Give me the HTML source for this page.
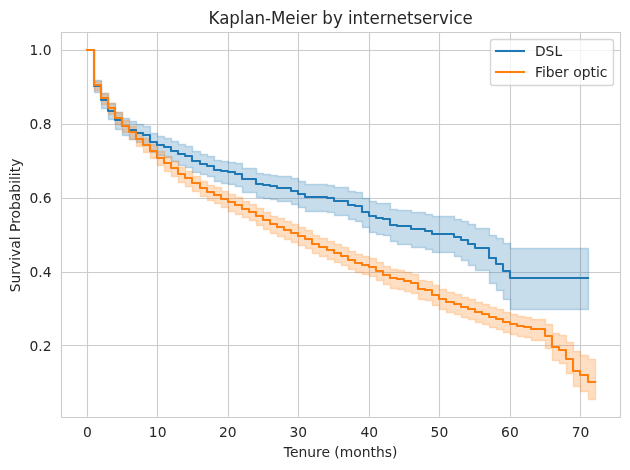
<!DOCTYPE html>
<html lang="en"><head><meta charset="utf-8"><title>Kaplan-Meier by internetservice</title>
<style>html,body{margin:0;padding:0;background:#fff}svg{display:block}text{font-family:'DejaVu Sans','Liberation Sans',sans-serif;fill:#262626}</style></head><body>
<svg width="630" height="470" viewBox="0 0 630 470">
<defs><clipPath id="ax"><rect x="61.28" y="32.33" width="558.72" height="384.39"/></clipPath></defs>
<rect x="0" y="0" width="630" height="470" fill="#ffffff"/>
<path d="M87.5 32.33 V416.72 M157.5 32.33 V416.72 M228.5 32.33 V416.72 M298.5 32.33 V416.72 M369.5 32.33 V416.72 M439.5 32.33 V416.72 M510.5 32.33 V416.72 M580.5 32.33 V416.72 M61.28 50.5 H620 M61.28 124.5 H620 M61.28 198.5 H620 M61.28 272.5 H620 M61.28 345.5 H620" fill="none" stroke="#cccccc" stroke-width="1.11"/>
<g clip-path="url(#ax)">
<path d="M87.5 50 L94.5 50 L94.5 80.5 L101.5 80.5 L101.5 93.5 L108.5 93.5 L108.5 103.5 L115.5 103.5 L115.5 112.5 L122.5 112.5 L122.5 118.5 L129.5 118.5 L129.5 121.5 L136.5 121.5 L136.5 124.5 L143.5 124.5 L143.5 126.5 L150.5 126.5 L150.5 133.5 L157.5 133.5 L157.5 136.5 L164.5 136.5 L164.5 138.5 L171.5 138.5 L171.5 141.5 L178.5 141.5 L178.5 144.5 L185.5 144.5 L185.5 146.5 L192.5 146.5 L192.5 151.5 L200.5 151.5 L200.5 154.5 L207.5 154.5 L207.5 156.5 L214.5 156.5 L214.5 160.5 L221.5 160.5 L221.5 161.5 L228.5 161.5 L228.5 162.5 L235.5 162.5 L235.5 163.5 L242.5 163.5 L242.5 168.5 L249.5 168.5 L249.5 168.5 L256.5 168.5 L256.5 173.5 L263.5 173.5 L263.5 174.5 L270.5 174.5 L270.5 175.5 L277.5 175.5 L277.5 176.5 L284.5 176.5 L284.5 176.5 L291.5 176.5 L291.5 178.5 L298.5 178.5 L298.5 181.5 L305.5 181.5 L305.5 184.5 L312.5 184.5 L312.5 184.5 L319.5 184.5 L319.5 184.5 L327.5 184.5 L327.5 185.5 L334.5 185.5 L334.5 187.5 L341.5 187.5 L341.5 187.5 L348.5 187.5 L348.5 191.5 L355.5 191.5 L355.5 192.5 L362.5 192.5 L362.5 198.5 L369.5 198.5 L369.5 201.5 L376.5 201.5 L376.5 203.5 L383.5 203.5 L383.5 203.5 L390.5 203.5 L390.5 209.5 L397.5 209.5 L397.5 210.5 L404.5 210.5 L404.5 210.5 L411.5 210.5 L411.5 212.5 L418.5 212.5 L418.5 212.5 L425.5 212.5 L425.5 214.5 L432.5 214.5 L432.5 216.5 L439.5 216.5 L439.5 216.5 L446.5 216.5 L446.5 216.5 L454.5 216.5 L454.5 219.5 L461.5 219.5 L461.5 221.5 L468.5 221.5 L468.5 224.5 L475.5 224.5 L475.5 228.5 L482.5 228.5 L482.5 228.5 L489.5 228.5 L489.5 235.5 L496.5 235.5 L496.5 238.5 L503.5 238.5 L503.5 243.5 L510.5 243.5 L510.5 248.5 L517.5 248.5 L517.5 248.5 L524.5 248.5 L524.5 248.5 L531.5 248.5 L531.5 248.5 L538.5 248.5 L538.5 248.5 L545.5 248.5 L545.5 248.5 L552.5 248.5 L552.5 248.5 L559.5 248.5 L559.5 248.5 L566.5 248.5 L566.5 248.5 L573.5 248.5 L573.5 248.5 L580.5 248.5 L580.5 248.5 L588.5 248.5 L588.5 309.5 L580.5 309.5 L580.5 309.5 L573.5 309.5 L573.5 309.5 L566.5 309.5 L566.5 309.5 L559.5 309.5 L559.5 309.5 L552.5 309.5 L552.5 309.5 L545.5 309.5 L545.5 309.5 L538.5 309.5 L538.5 309.5 L531.5 309.5 L531.5 309.5 L524.5 309.5 L524.5 309.5 L517.5 309.5 L517.5 309.5 L510.5 309.5 L510.5 299.5 L503.5 299.5 L503.5 290.5 L496.5 290.5 L496.5 283.5 L489.5 283.5 L489.5 270.5 L482.5 270.5 L482.5 270.5 L475.5 270.5 L475.5 265.5 L468.5 265.5 L468.5 260.5 L461.5 260.5 L461.5 256.5 L454.5 256.5 L454.5 252.5 L446.5 252.5 L446.5 252.5 L439.5 252.5 L439.5 252.5 L432.5 252.5 L432.5 249.5 L425.5 249.5 L425.5 247.5 L418.5 247.5 L418.5 247.5 L411.5 247.5 L411.5 244.5 L404.5 244.5 L404.5 244.5 L397.5 244.5 L397.5 241.5 L390.5 241.5 L390.5 235.5 L383.5 235.5 L383.5 234.5 L376.5 234.5 L376.5 232.5 L369.5 232.5 L369.5 227.5 L362.5 227.5 L362.5 221.5 L355.5 221.5 L355.5 219.5 L348.5 219.5 L348.5 215.5 L341.5 215.5 L341.5 215.5 L334.5 215.5 L334.5 212.5 L327.5 212.5 L327.5 211.5 L319.5 211.5 L319.5 211.5 L312.5 211.5 L312.5 211.5 L305.5 211.5 L305.5 207.5 L298.5 207.5 L298.5 204.5 L291.5 204.5 L291.5 201.5 L284.5 201.5 L284.5 201.5 L277.5 201.5 L277.5 199.5 L270.5 199.5 L270.5 198.5 L263.5 198.5 L263.5 197.5 L256.5 197.5 L256.5 192.5 L249.5 192.5 L249.5 192.5 L242.5 192.5 L242.5 186.5 L235.5 186.5 L235.5 184.5 L228.5 184.5 L228.5 183.5 L221.5 183.5 L221.5 181.5 L214.5 181.5 L214.5 176.5 L207.5 176.5 L207.5 174.5 L200.5 174.5 L200.5 172.5 L192.5 172.5 L192.5 167.5 L185.5 167.5 L185.5 165.5 L178.5 165.5 L178.5 161.5 L171.5 161.5 L171.5 157.5 L164.5 157.5 L164.5 155.5 L157.5 155.5 L157.5 152.5 L150.5 152.5 L150.5 145.5 L143.5 145.5 L143.5 142.5 L136.5 142.5 L136.5 139.5 L129.5 139.5 L129.5 135.5 L122.5 135.5 L122.5 129.5 L115.5 129.5 L115.5 119.5 L108.5 119.5 L108.5 108.5 L101.5 108.5 L101.5 92.5 L94.5 92.5 L94.5 50 L87.5 50 Z" fill="#1f77b4" fill-opacity="0.25" stroke="#1f77b4" stroke-opacity="0.25" stroke-width="1.39" stroke-linejoin="miter"/>
<path d="M87.5 50 L94.5 50 L94.5 81.5 L101.5 81.5 L101.5 93.5 L108.5 93.5 L108.5 103.5 L115.5 103.5 L115.5 112.5 L122.5 112.5 L122.5 120.5 L129.5 120.5 L129.5 126.5 L136.5 126.5 L136.5 132.5 L143.5 132.5 L143.5 138.5 L150.5 138.5 L150.5 144.5 L157.5 144.5 L157.5 151.5 L164.5 151.5 L164.5 156.5 L171.5 156.5 L171.5 161.5 L178.5 161.5 L178.5 167.5 L185.5 167.5 L185.5 171.5 L192.5 171.5 L192.5 176.5 L200.5 176.5 L200.5 181.5 L207.5 181.5 L207.5 185.5 L214.5 185.5 L214.5 187.5 L221.5 187.5 L221.5 191.5 L228.5 191.5 L228.5 194.5 L235.5 194.5 L235.5 197.5 L242.5 197.5 L242.5 201.5 L249.5 201.5 L249.5 204.5 L256.5 204.5 L256.5 208.5 L263.5 208.5 L263.5 212.5 L270.5 212.5 L270.5 216.5 L277.5 216.5 L277.5 218.5 L284.5 218.5 L284.5 221.5 L291.5 221.5 L291.5 224.5 L298.5 224.5 L298.5 227.5 L305.5 227.5 L305.5 230.5 L312.5 230.5 L312.5 235.5 L319.5 235.5 L319.5 238.5 L327.5 238.5 L327.5 241.5 L334.5 241.5 L334.5 244.5 L341.5 244.5 L341.5 247.5 L348.5 247.5 L348.5 251.5 L355.5 251.5 L355.5 254.5 L362.5 254.5 L362.5 256.5 L369.5 256.5 L369.5 258.5 L376.5 258.5 L376.5 262.5 L383.5 262.5 L383.5 266.5 L390.5 266.5 L390.5 269.5 L397.5 269.5 L397.5 270.5 L404.5 270.5 L404.5 272.5 L411.5 272.5 L411.5 274.5 L418.5 274.5 L418.5 280.5 L425.5 280.5 L425.5 281.5 L432.5 281.5 L432.5 285.5 L439.5 285.5 L439.5 289.5 L446.5 289.5 L446.5 292.5 L454.5 292.5 L454.5 294.5 L461.5 294.5 L461.5 297.5 L468.5 297.5 L468.5 299.5 L475.5 299.5 L475.5 302.5 L482.5 302.5 L482.5 304.5 L489.5 304.5 L489.5 307.5 L496.5 307.5 L496.5 309.5 L503.5 309.5 L503.5 312.5 L510.5 312.5 L510.5 314.5 L517.5 314.5 L517.5 316.5 L524.5 316.5 L524.5 317.5 L531.5 317.5 L531.5 319.5 L538.5 319.5 L538.5 319.5 L545.5 319.5 L545.5 324.5 L552.5 324.5 L552.5 333.5 L559.5 333.5 L559.5 335.5 L566.5 335.5 L566.5 342.5 L573.5 342.5 L573.5 351.5 L580.5 351.5 L580.5 355.5 L588.5 355.5 L588.5 359.5 L595.5 359.5 L595.5 399.5 L588.5 399.5 L588.5 391.5 L580.5 391.5 L580.5 386.5 L573.5 386.5 L573.5 373.5 L566.5 373.5 L566.5 363.5 L559.5 363.5 L559.5 360.5 L552.5 360.5 L552.5 348.5 L545.5 348.5 L545.5 340.5 L538.5 340.5 L538.5 340.5 L531.5 340.5 L531.5 337.5 L524.5 337.5 L524.5 336.5 L517.5 336.5 L517.5 334.5 L510.5 334.5 L510.5 332.5 L503.5 332.5 L503.5 329.5 L496.5 329.5 L496.5 327.5 L489.5 327.5 L489.5 324.5 L482.5 324.5 L482.5 322.5 L475.5 322.5 L475.5 319.5 L468.5 319.5 L468.5 317.5 L461.5 317.5 L461.5 314.5 L454.5 314.5 L454.5 312.5 L446.5 312.5 L446.5 309.5 L439.5 309.5 L439.5 305.5 L432.5 305.5 L432.5 300.5 L425.5 300.5 L425.5 299.5 L418.5 299.5 L418.5 293.5 L411.5 293.5 L411.5 291.5 L404.5 291.5 L404.5 289.5 L397.5 289.5 L397.5 288.5 L390.5 288.5 L390.5 284.5 L383.5 284.5 L383.5 280.5 L376.5 280.5 L376.5 276.5 L369.5 276.5 L369.5 274.5 L362.5 274.5 L362.5 272.5 L355.5 272.5 L355.5 269.5 L348.5 269.5 L348.5 265.5 L341.5 265.5 L341.5 262.5 L334.5 262.5 L334.5 259.5 L327.5 259.5 L327.5 256.5 L319.5 256.5 L319.5 253.5 L312.5 253.5 L312.5 248.5 L305.5 248.5 L305.5 245.5 L298.5 245.5 L298.5 242.5 L291.5 242.5 L291.5 239.5 L284.5 239.5 L284.5 236.5 L277.5 236.5 L277.5 233.5 L270.5 233.5 L270.5 229.5 L263.5 229.5 L263.5 225.5 L256.5 225.5 L256.5 220.5 L249.5 220.5 L249.5 217.5 L242.5 217.5 L242.5 214.5 L235.5 214.5 L235.5 211.5 L228.5 211.5 L228.5 207.5 L221.5 207.5 L221.5 203.5 L214.5 203.5 L214.5 200.5 L207.5 200.5 L207.5 196.5 L200.5 196.5 L200.5 191.5 L192.5 191.5 L192.5 186.5 L185.5 186.5 L185.5 182.5 L178.5 182.5 L178.5 176.5 L171.5 176.5 L171.5 171.5 L164.5 171.5 L164.5 165.5 L157.5 165.5 L157.5 158.5 L150.5 158.5 L150.5 152.5 L143.5 152.5 L143.5 146.5 L136.5 146.5 L136.5 139.5 L129.5 139.5 L129.5 132.5 L122.5 132.5 L122.5 124.5 L115.5 124.5 L115.5 114.5 L108.5 114.5 L108.5 104.5 L101.5 104.5 L101.5 90.5 L94.5 90.5 L94.5 50 L87.5 50 Z" fill="#ff7f0e" fill-opacity="0.25" stroke="#ff7f0e" stroke-opacity="0.25" stroke-width="1.39" stroke-linejoin="miter"/>
<path d="M87 50 L94 50 L94 86 L101 86 L101 100 L108 100 L108 111 L115 111 L115 120 L122 120 L122 126 L129 126 L129 130 L136 130 L136 133 L143 133 L143 135 L150 135 L150 142 L157 142 L157 145 L164 145 L164 147 L171 147 L171 151 L178 151 L178 154 L185 154 L185 156 L192 156 L192 161 L200 161 L200 164 L207 164 L207 166 L214 166 L214 170 L221 170 L221 171 L228 171 L228 172 L235 172 L235 174 L242 174 L242 179 L249 179 L249 179 L256 179 L256 184 L263 184 L263 185 L270 185 L270 186 L277 186 L277 188 L284 188 L284 188 L291 188 L291 191 L298 191 L298 194 L305 194 L305 197 L312 197 L312 197 L319 197 L319 197 L327 197 L327 198 L334 198 L334 201 L341 201 L341 201 L348 201 L348 205 L355 205 L355 206 L362 206 L362 212 L369 212 L369 216 L376 216 L376 218 L383 218 L383 219 L390 219 L390 225 L397 225 L397 226 L404 226 L404 226 L411 226 L411 229 L418 229 L418 229 L425 229 L425 231 L432 231 L432 234 L439 234 L439 234 L446 234 L446 234 L454 234 L454 237 L461 237 L461 240 L468 240 L468 244 L475 244 L475 248 L482 248 L482 248 L489 248 L489 258 L496 258 L496 264 L503 264 L503 271 L510 271 L510 278 L517 278 L517 278 L524 278 L524 278 L531 278 L531 278 L538 278 L538 278 L545 278 L545 278 L552 278 L552 278 L559 278 L559 278 L566 278 L566 278 L573 278 L573 278 L580 278 L580 278 L588 278" fill="none" stroke="#1f77b4" stroke-width="2.08" stroke-linejoin="round" stroke-linecap="square"/>
<path d="M87 50 L94 50 L94 85 L101 85 L101 98 L108 98 L108 108 L115 108 L115 118 L122 118 L122 126 L129 126 L129 132 L136 132 L136 139 L143 139 L143 145 L150 145 L150 151 L157 151 L157 158 L164 158 L164 163 L171 163 L171 168 L178 168 L178 174 L185 174 L185 178 L192 178 L192 183 L200 183 L200 188 L207 188 L207 192 L214 192 L214 195 L221 195 L221 199 L228 199 L228 202 L235 202 L235 205 L242 205 L242 209 L249 209 L249 212 L256 212 L256 216 L263 216 L263 220 L270 220 L270 224 L277 224 L277 227 L284 227 L284 230 L291 230 L291 233 L298 233 L298 236 L305 236 L305 239 L312 239 L312 244 L319 244 L319 247 L327 247 L327 250 L334 250 L334 253 L341 253 L341 256 L348 256 L348 260 L355 260 L355 263 L362 263 L362 265 L369 265 L369 267 L376 267 L376 271 L383 271 L383 275 L390 275 L390 278 L397 278 L397 279 L404 279 L404 281 L411 281 L411 283 L418 283 L418 289 L425 289 L425 290 L432 290 L432 295 L439 295 L439 299 L446 299 L446 302 L454 302 L454 304 L461 304 L461 307 L468 307 L468 309 L475 309 L475 312 L482 312 L482 314 L489 314 L489 317 L496 317 L496 319 L503 319 L503 322 L510 322 L510 324 L517 324 L517 326 L524 326 L524 327 L531 327 L531 329 L538 329 L538 329 L545 329 L545 336 L552 336 L552 347 L559 347 L559 350 L566 350 L566 359 L573 359 L573 371 L580 371 L580 375 L588 375 L588 382 L595 382" fill="none" stroke="#ff7f0e" stroke-width="2.08" stroke-linejoin="round" stroke-linecap="square"/>
</g>
<path d="M61.5 32.5 H620.5 V417.5 H61.5 Z" fill="none" stroke="#cccccc" stroke-width="1.11" stroke-linejoin="miter"/>
<text x="87.4" y="437" font-size="13.89" text-anchor="middle">0</text>
<text x="157.7" y="437" font-size="13.89" text-anchor="middle">10</text>
<text x="227.77" y="437" font-size="13.89" text-anchor="middle">20</text>
<text x="298.31" y="437" font-size="13.89" text-anchor="middle">30</text>
<text x="369.3" y="437" font-size="13.89" text-anchor="middle">40</text>
<text x="439.4" y="437" font-size="13.89" text-anchor="middle">50</text>
<text x="509.95" y="437" font-size="13.89" text-anchor="middle">60</text>
<text x="580.49" y="437" font-size="13.89" text-anchor="middle">70</text>
<text x="51.56" y="55" font-size="13.89" text-anchor="end">1.0</text>
<text x="51.56" y="129" font-size="13.89" text-anchor="end">0.8</text>
<text x="51.56" y="203" font-size="13.89" text-anchor="end">0.6</text>
<text x="51.56" y="277" font-size="13.89" text-anchor="end">0.4</text>
<text x="51.56" y="351" font-size="13.89" text-anchor="end">0.2</text>
<text x="340.64" y="457" font-size="13.89" text-anchor="middle">Tenure (months)</text>
<text transform="translate(20.02 225.5) rotate(-90)" font-size="13.89" text-anchor="middle">Survival Probability</text>
<text transform="translate(340.64 24) scale(1 1.09)" font-size="16.67" letter-spacing="-0.05" text-anchor="middle">Kaplan-Meier by internetservice</text>
<g opacity="0.8"><rect x="490.5" y="39.5" width="123" height="46" rx="2.78" ry="2.78" fill="#ffffff" stroke="#cccccc" stroke-width="1.39"/></g>
<path d="M496 51 H524" fill="none" stroke="#1f77b4" stroke-width="2.08" stroke-linecap="square"/>
<path d="M496 72 H524" fill="none" stroke="#ff7f0e" stroke-width="2.08" stroke-linecap="square"/>
<text x="534.92" y="56" font-size="13.89">DSL</text>
<text x="534.92" y="77" font-size="13.89">Fiber optic</text>
</svg></body></html>
